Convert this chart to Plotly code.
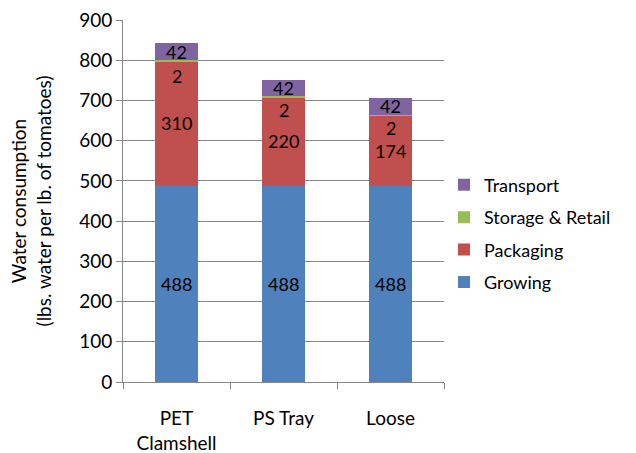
import plotly.graph_objects as go

# Packaging options compared
categories = ["PET<br>Clamshell", "PS Tray", "Loose"]

# Water consumption by life-cycle stage (lbs. water per lb. of tomatoes)
growing = [488, 488, 488]
packaging = [310, 220, 174]
storage_retail = [2, 2, 2]
transport = [42, 42, 42]

y_ticks = [0, 100, 200, 300, 400, 500, 600, 700, 800, 900]

FONT = "Lato"
# (name, values, colour, pixel offsets of the value labels per bar)
series = [
    ("Growing", growing, "#4F81BD", [0, 0, 0]),
    ("Packaging", packaging, "#C0504D", [0, 0, 0]),
    ("Storage & Retail", storage_retail, "#9BBB59", [-15, -13, -13]),
    ("Transport", transport, "#8064A2", [0, 0, 0]),
]

fig = go.Figure()
annotations = []
base = [0, 0, 0]
for i, (name, vals, color, shifts) in enumerate(series):
    fig.add_trace(go.Bar(
        x=categories, y=vals, name=name, legendgroup=name,
        legendrank=len(series) - i,
        marker=dict(color=color, line=dict(width=0)),
        hoverinfo="skip",
    ))
    for j, v in enumerate(vals):
        annotations.append(dict(
            x=categories[j], y=base[j] + v / 2, text=str(v),
            showarrow=False, yshift=shifts[j],
            font=dict(family=FONT, size=18, color="#000000"),
        ))
        base[j] += v

fig.update_layout(
    barmode="stack",
    bargap=0.6,
    width=636, height=453,
    margin=dict(l=123, r=192, t=20, b=71),
    paper_bgcolor="white", plot_bgcolor="white",
    font=dict(family=FONT, size=19, color="#000000"),
    annotations=annotations,
    showlegend=True,
    legend=dict(
        traceorder="grouped", tracegroupgap=6,
        x=1.0, xanchor="left", y=0.41, yanchor="middle",
        font=dict(family=FONT, size=18, color="#000000"),
        bgcolor="rgba(0,0,0,0)",
    ),
)

fig.update_xaxes(
    showline=True, linecolor="#868686", linewidth=1,
    ticks="outside", tickson="boundaries", ticklen=6, tickcolor="#868686",
    ticklabelstandoff=19, automargin=False,
    tickfont=dict(family=FONT, size=19, color="#000000"),
    showgrid=False,
)

fig.update_yaxes(
    range=[0, 900], tickvals=y_ticks,
    showline=True, linecolor="#868686", linewidth=1,
    ticks="outside", ticklen=6, tickcolor="#868686",
    showgrid=True, gridcolor="#868686", gridwidth=1,
    tickfont=dict(family=FONT, size=19, color="#000000"),
    automargin=False,
    title=dict(
        text="Water consumption<br>(lbs. water per lb. of tomatoes)",
        font=dict(family=FONT, size=19, color="#000000"),
        standoff=22,
    ),
    zeroline=False,
)

fig.write_html("out.html")
